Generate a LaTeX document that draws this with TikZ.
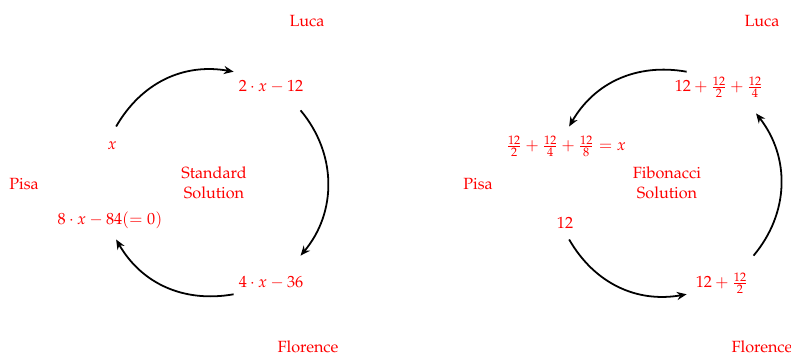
\documentclass[tikz,border=0pt]{standalone}
\usepackage{amsmath}
\usepackage[T1]{fontenc}
\usepackage{mathpazo}
\usepackage{tikz}
\usetikzlibrary{arrows.meta}

\begin{document}
\begin{tikzpicture}[
    x=0.617pt, y=0.617pt,
    val/.style={text=red, font=\normalsize, inner sep=1pt},
    city/.style={text=red, font=\normalsize, inner sep=1pt},
    title/.style={text=red, align=center, font=\normalsize, inner sep=1pt},
    arr/.style={-{Stealth[length=6pt, width=5pt]}, black, line width=1.1pt}
  ]
  \useasboundingbox (0,0) rectangle (791,356);

  % Standard solution
  \coordinate (cs) at (214,173);
  \node[title] (std) at (cs) {Standard\\Solution};
  \node[city] (luca1) at (307,335) {Luca};
  \node[city] (pisa1) at (24,172) {Pisa};
  \node[city] (flor1) at (308,9) {Florence};
  \node[val] (s0) at (112,210) {$x$};
  \node[val] (s1) at (271,269) {$2\cdot x-12$};
  \node[val] (s2) at (271,73) {$4\cdot x-36$};
  \node[val] (s3) at (110,136) {$8\cdot x-84(=0)$};

  \coordinate (sa) at ([shift={(150:113)}]cs);
  \coordinate (sb) at ([shift={(80:113)}]cs);
  \coordinate (sc) at ([shift={(40:113)}]cs);
  \coordinate (sd) at ([shift={(-40:113)}]cs);
  \coordinate (se) at ([shift={(-80:113)}]cs);
  \coordinate (sf) at ([shift={(-150:113)}]cs);
  \draw[arr] (sa) to[bend left=35] (sb);
  \draw[arr] (sc) to[bend left=40] (sd);
  \draw[arr] (se) to[bend left=35] (sf);

  % Fibonacci solution
  \coordinate (cf) at (667,173);
  \node[title] (fib) at (cf) {Fibonacci\\Solution};
  \node[city] (luca2) at (762,335) {Luca};
  \node[city] (pisa2) at (478,172) {Pisa};
  \node[city] (flor2) at (762,9) {Florence};
  \node[val] (f0) at (565,133) {$12$};
  \node[val] (f1) at (722,73) {$12+\frac{12}{2}$};
  \node[val] (f2) at (719,269) {$12+\frac{12}{2}+\frac{12}{4}$};
  \node[val] (f3) at (566,210) {$\frac{12}{2}+\frac{12}{4}+\frac{12}{8}=x$};

  \coordinate (fa) at ([shift={(-150:113)}]cf);
  \coordinate (fb) at ([shift={(-80:113)}]cf);
  \coordinate (fc) at ([shift={(-40:113)}]cf);
  \coordinate (fd) at ([shift={(38:113)}]cf);
  \coordinate (fe) at ([shift={(80:113)}]cf);
  \coordinate (ff) at ([shift={(150:113)}]cf);
  \draw[arr] (fa) to[bend right=35] (fb);
  \draw[arr] (fc) to[bend right=39] (fd);
  \draw[arr] (fe) to[bend right=35] (ff);
\end{tikzpicture}
\end{document}
